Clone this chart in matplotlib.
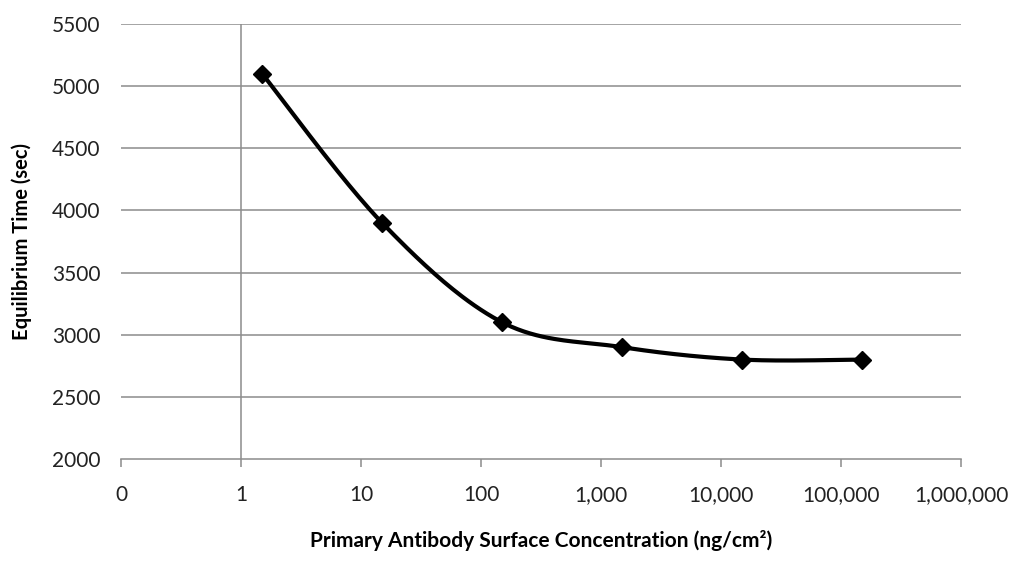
import numpy as np
import matplotlib.pyplot as plt

# dados
concentracao = [1.5, 15, 150, 1500, 15000, 150000]
tempo_eq = [5100, 3900, 3100, 2900, 2800, 2800]

x_ticks = [0.1, 1, 10, 100, 1000, 10000, 100000, 1000000]
x_tick_labels = ["0", "1", "10", "100", "1,000", "10,000", "100,000", "1,000,000"]
y_ticks = [2000, 2500, 3000, 3500, 4000, 4500, 5000, 5500]

fonte = ["Lato", "DejaVu Sans"]


def suavizar(xs, ys, n=40):
    # curva tipo Excel (Catmull-Rom) em log10(x)
    u = np.log10(xs)
    y = np.array(ys, dtype=float)
    pu = np.concatenate(([u[0]], u, [u[-1]]))
    py = np.concatenate(([y[0]], y, [y[-1]]))
    out_u, out_y = [], []
    t = np.linspace(0, 1, n)
    for i in range(1, len(pu) - 2):
        p0, p1, p2, p3 = pu[i - 1], pu[i], pu[i + 1], pu[i + 2]
        q0, q1, q2, q3 = py[i - 1], py[i], py[i + 1], py[i + 2]
        c1u, c2u = p1 + (p2 - p0) / 6, p2 - (p3 - p1) / 6
        c1y, c2y = q1 + (q2 - q0) / 6, q2 - (q3 - q1) / 6
        b0 = (1 - t) ** 3
        b1 = 3 * (1 - t) ** 2 * t
        b2 = 3 * (1 - t) * t ** 2
        b3 = t ** 3
        out_u.append(b0 * p1 + b1 * c1u + b2 * c2u + b3 * p2)
        out_y.append(b0 * q1 + b1 * c1y + b2 * c2y + b3 * q2)
    return 10 ** np.concatenate(out_u), np.concatenate(out_y)


plt.rcParams["font.family"] = fonte

fig = plt.figure(figsize=(10.1, 5.61), dpi=100)
ax = fig.add_axes([0.1198, 0.1818, 0.8317, 0.7754])

cinza = "#8c8c8c"

ax.set_xscale("log")
ax.set_xlim(0.1, 1000000)
ax.set_ylim(2000, 5500)

for yv in y_ticks[1:]:
    ax.axhline(yv, color=cinza, lw=1.1, zorder=1)
ax.axvline(1, color=cinza, lw=1.1, zorder=1)

xs, ys = suavizar(concentracao, tempo_eq)
ax.plot(xs, ys, color="black", lw=3, zorder=3, solid_capstyle="round")
ax.plot(concentracao, tempo_eq, linestyle="none", marker="D",
        color="black", markersize=9, zorder=4)

ax.set_xticks(x_ticks)
ax.set_xticklabels(x_tick_labels)
ax.minorticks_off()
ax.set_yticks(y_ticks)

for s in ["top", "right", "left"]:
    ax.spines[s].set_visible(False)
ax.spines["bottom"].set_color(cinza)
ax.spines["bottom"].set_linewidth(1.1)

ax.tick_params(axis="x", direction="out", length=6, color=cinza, width=1.1,
               labelsize=15, pad=13, labelcolor="#222222")
ax.tick_params(axis="y", length=0, labelsize=15, pad=15, labelcolor="#222222")

ax.set_xlabel("Primary Antibody Surface Concentration (ng/cm²)",
              fontsize=15, fontweight="bold", labelpad=18)
ax.set_ylabel("Equilibrium Time (sec)", fontsize=14.5, fontweight="bold",
              labelpad=14)

fig.savefig("out.png", dpi=100)
